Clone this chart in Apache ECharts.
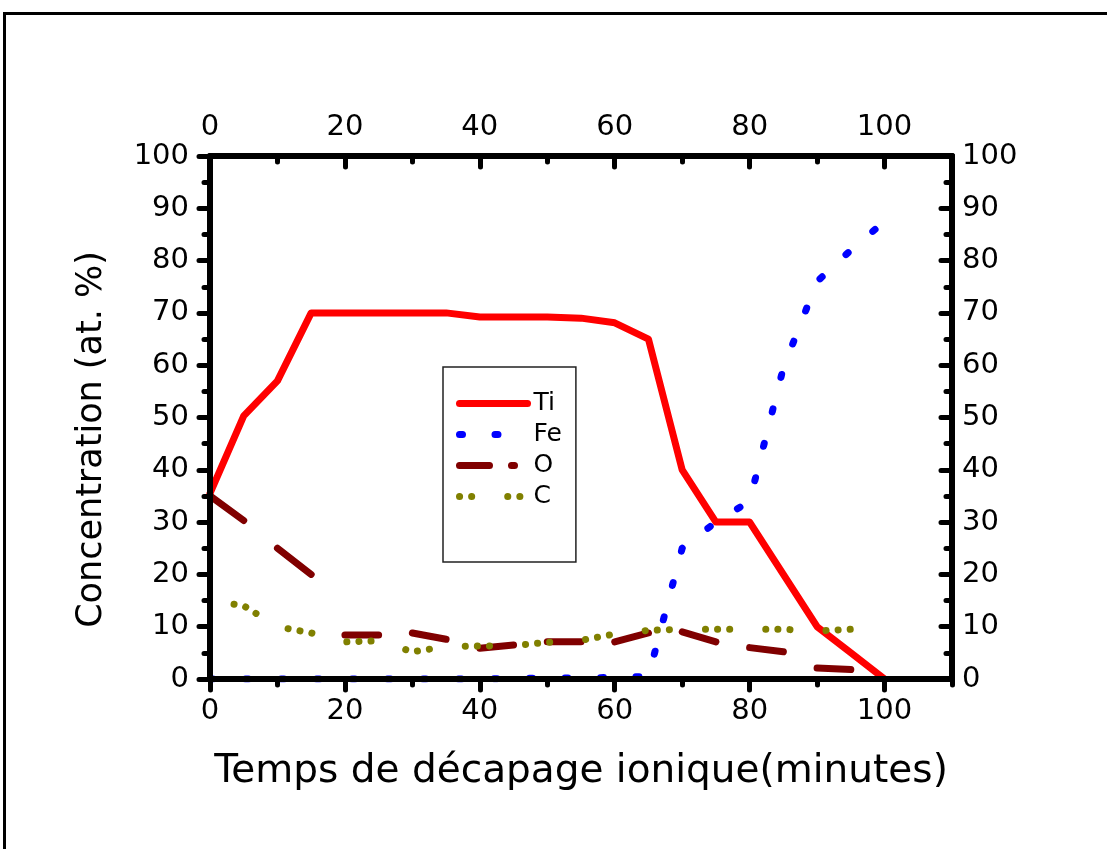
<!DOCTYPE html>
<html><head><meta charset="utf-8">
<script src="https://cdn.jsdelivr.net/npm/echarts@6/dist/echarts.min.js"></script>
<style>html,body{margin:0;padding:0;background:#fff}#c{width:1107px;height:849px}</style>
</head><body><div id="c"></div>
<script>
// ---- data ----
const xValues  = [0, 5, 10, 15, 20, 25, 30, 35, 40, 45, 50, 55, 60, 65, 70, 75, 80, 85, 90, 95, 100];
const tiValues = [35.5, 50.3, 57, 70, 70, 70, 70, 70, 69.2, 69.2, 69.2, 69, 68.1, 65, 40, 30, 30, 20, 10, 5, 0];
const feValues = [0, 0, 0, 0, 0, 0, 0, 0, 0, 0.1, 0.2, 0.2, 0.3, 0.5, 25, 30, 34, 59.5, 76, 82, 87.5];
const oValues  = [35, 30.3, 25, 20, 8.4, 8.4, 8.8, 7.6, 5.9, 6.5, 7.1, 7.1, 7.1, 8.8, 9.0, 7.1, 6.0, 5.2, 2.1, 1.8, 1.5];
const cValues  = [15, 14, 10, 8.8, 7.1, 7.3, 5.2, 6.2, 6.3, 6.4, 7.0, 7.4, 8.6, 9.3, 9.5, 9.5, 9.5, 9.5, 9.2, 9.5, 9.5];
const seriesNames = ['Ti', 'Fe', 'O', 'C'];
const xMajorTicks = [0, 20, 40, 60, 80, 100];
const xMinorTicks = [10, 30, 50, 70, 90, 110];
const xTitle = 'Temps de décapage ionique(minutes)';
const yTitle = 'Concentration (at. %)';

// ---- helpers ----
function pairs(vals) { return xValues.map((x, i) => [x, vals[i]]); }
// O is drawn as alternate segments between consecutive data points (long dashes)
function alternateSegments(vals) {
  const out = [];
  for (let i = 0; i + 1 < xValues.length; i += 2) {
    out.push([xValues[i], vals[i]], [xValues[i + 1], vals[i + 1]], [xValues[i + 1], '-']);
  }
  return out;
}

const FONT = 'DejaVu Sans';
const AX = { color: '#000', width: 6, cap: 'round' };
const TK = { color: '#000', width: 5, cap: 'round' };
const LBL = { color: '#000', fontFamily: FONT, fontSize: 29 };

function xAxisDef(pos, major, withLabel, inside, extra) {
  return Object.assign({
    type: 'value', position: pos, min: 0, max: 110, interval: 20,
    axisLine: { show: major, onZero: false, lineStyle: AX },
    axisTick: { show: true, inside: inside, length: major ? 11 : 6, lineStyle: TK,
                customValues: major ? xMajorTicks : xMinorTicks },
    axisLabel: withLabel ? Object.assign({ customValues: xMajorTicks, margin: pos === 'top' ? 14 : 18 }, LBL) : { show: false },
    splitLine: { show: false },
    z: 10
  }, extra || {});
}

function yAxisDef(pos, inside, extra) {
  return Object.assign({
    type: 'value', position: pos, min: 0, max: 100, interval: 10,
    axisLine: { show: true, onZero: false, lineStyle: AX },
    axisTick: { show: true, inside: inside, length: 11, lineStyle: TK },
    minorTick: { show: true, splitNumber: 2, length: 6, lineStyle: TK },
    axisLabel: Object.assign({ margin: pos === 'left' ? 21 : 10 }, LBL),
    splitLine: { show: false },
    minorSplitLine: { show: false },
    z: 10
  }, extra || {});
}

const chart = echarts.init(document.getElementById('c'), null, { renderer: 'canvas' });
chart.setOption({
  backgroundColor: '#fff',
  animation: false,
  textStyle: { fontFamily: FONT },
  grid: { left: 210, right: 155, top: 156, bottom: 170, show: false },
  graphic: [{
    type: 'rect', silent: true,
    shape: { x: 4.5, y: 13.5, width: 1400, height: 1200 },
    style: { fill: 'none', stroke: '#000', lineWidth: 3 }
  }],
  xAxis: [
    xAxisDef('bottom', true, true, false, {
      name: xTitle, nameLocation: 'middle', nameGap: 73,
      nameTextStyle: { color: '#000', fontFamily: FONT, fontSize: 39 }
    }),
    xAxisDef('bottom', false, false, false),
    xAxisDef('top', true, true, true),
    xAxisDef('top', false, false, true)
  ],
  yAxis: [
    yAxisDef('left', false, {
      name: yTitle, nameLocation: 'middle', nameGap: 101,
      nameTextStyle: { color: '#000', fontFamily: FONT, fontSize: 35, padding: [0, 44, 0, 0] }
    }),
    yAxisDef('right', true)
  ],
  legend: {
    orient: 'vertical', left: 443, top: 367,
    padding: [24, 14, 53, 13],
    itemWidth: 68, itemHeight: 14, itemGap: 6,
    borderColor: '#222', borderWidth: 1.5, backgroundColor: '#fff',
    textStyle: { color: '#000', fontFamily: FONT, fontSize: 25, lineHeight: 25, padding: [0, 0, 0, 1] },
    itemStyle: { color: 'rgba(0,0,0,0)', borderWidth: 0, opacity: 0 },
    lineStyle: { width: 7, cap: 'round' },
    data: [
      { name: seriesNames[0], lineStyle: { type: 'solid' } },
      { name: seriesNames[1], lineStyle: { type: [3, 32.5], dashOffset: 0 } },
      { name: seriesNames[2], lineStyle: { type: [30, 22, 3, 40], dashOffset: 0 } },
      { name: seriesNames[3], lineStyle: { type: [0.1, 12, 0.1, 36], dashOffset: 0 } }
    ]
  },
  series: [
    { name: seriesNames[0], type: 'line', symbol: 'none', data: pairs(tiValues),
      lineStyle: { color: '#ff0000', width: 7, join: 'round', cap: 'round' }, itemStyle: { color: '#ff0000' } },
    { name: seriesNames[1], type: 'line', symbol: 'none', data: pairs(feValues),
      lineStyle: { color: '#0000ff', width: 7, type: [3, 32.5], cap: 'round', join: 'round' }, itemStyle: { color: '#0000ff' } },
    { name: seriesNames[2], type: 'line', symbol: 'none', data: alternateSegments(oValues), connectNulls: false,
      lineStyle: { color: '#800000', width: 7, cap: 'round', join: 'round' }, itemStyle: { color: '#800000' } },
    { name: seriesNames[3], type: 'line', symbol: 'none', data: pairs(cValues),
      lineStyle: { color: '#808000', width: 7, type: [0.1, 12, 0.1, 12, 0.1, 36], dashOffset: 36, cap: 'round', join: 'round' },
      itemStyle: { color: '#808000' } }
  ]
});
</script></body></html>
